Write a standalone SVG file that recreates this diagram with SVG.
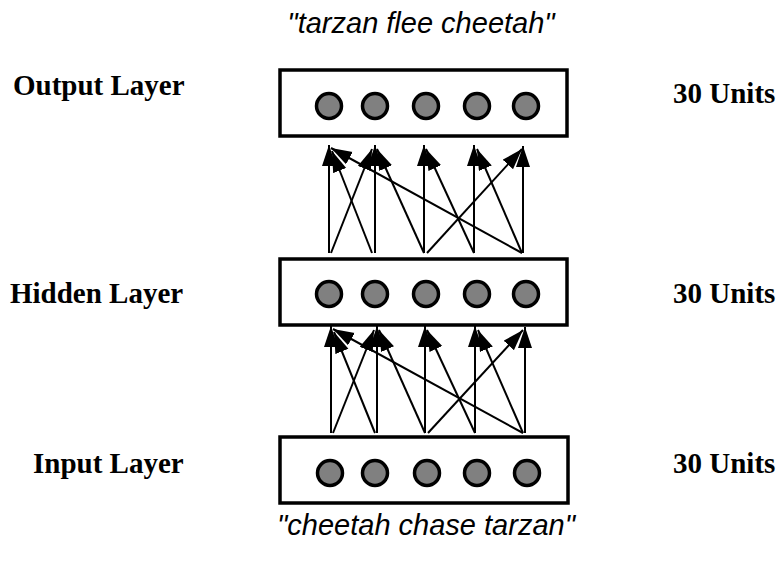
<svg xmlns="http://www.w3.org/2000/svg" width="779" height="563" viewBox="0 0 779 563">
<style>
.lbl{font-family:"Liberation Serif","Times New Roman",serif;font-weight:bold;font-size:29px;fill:#000}
.cap{font-family:"Liberation Sans",Arial,sans-serif;font-style:italic;font-size:29px;fill:#000;text-anchor:middle}
.box{fill:#fff;stroke:#000;stroke-width:3.5}
.unit{fill:#808080;stroke:#000;stroke-width:3.5}
.conn line{stroke:#000;stroke-width:2;marker-end:url(#ah)}
</style>
<defs>
<marker id="ah" markerUnits="userSpaceOnUse" markerWidth="22" markerHeight="15" refX="21" refY="7" orient="auto">
<path d="M0,0 L21,7 L0,14 z" fill="#000"/>
</marker>
</defs>
<rect width="779" height="563" fill="#fff"/>
<text class="cap" x="421" y="33">"tarzan flee cheetah"</text>
<text class="cap" x="426" y="535">"cheetah chase tarzan"</text>

<g id="output-layer">
<text class="lbl" x="13" y="95">Output Layer</text>
<rect class="box" x="280" y="70" width="287" height="66"/>
<circle class="unit" cx="329" cy="106" r="12.5"/>
<circle class="unit" cx="375" cy="106" r="12.5"/>
<circle class="unit" cx="426" cy="106" r="12.5"/>
<circle class="unit" cx="477" cy="106" r="12.5"/>
<circle class="unit" cx="526" cy="106" r="12.5"/>
<text class="lbl" x="673" y="103">30 Units</text>
</g>

<g id="hidden-layer">
<text class="lbl" x="10" y="303">Hidden Layer</text>
<rect class="box" x="280" y="259" width="287" height="66"/>
<circle class="unit" cx="329" cy="294" r="12.5"/>
<circle class="unit" cx="375" cy="294" r="12.5"/>
<circle class="unit" cx="426" cy="294" r="12.5"/>
<circle class="unit" cx="477" cy="294" r="12.5"/>
<circle class="unit" cx="526" cy="294" r="12.5"/>
<text class="lbl" x="673" y="303">30 Units</text>
</g>

<g id="input-layer">
<text class="lbl" x="33" y="473">Input Layer</text>
<rect class="box" x="280" y="437" width="288" height="66"/>
<circle class="unit" cx="330" cy="473" r="12.5"/>
<circle class="unit" cx="375" cy="473" r="12.5"/>
<circle class="unit" cx="427" cy="473" r="12.5"/>
<circle class="unit" cx="477" cy="473" r="12.5"/>
<circle class="unit" cx="527" cy="473" r="12.5"/>
<text class="lbl" x="673" y="473">30 Units</text>
</g>

<g id="connectors" class="conn">
<!-- hidden to output -->
<line x1="329" y1="253" x2="329" y2="145"/>
<line x1="331" y1="253" x2="372" y2="149"/>
<line x1="372" y1="253" x2="332" y2="151"/>
<line x1="375" y1="253" x2="375" y2="145"/>
<line x1="424" y1="253" x2="377" y2="149"/>
<line x1="424" y1="253" x2="424" y2="145"/>
<line x1="427" y1="253" x2="522" y2="149"/>
<line x1="474" y1="253" x2="426" y2="149"/>
<line x1="474" y1="253" x2="474" y2="145"/>
<line x1="522" y1="253" x2="331" y2="148"/>
<line x1="522" y1="253" x2="477" y2="149"/>
<line x1="523" y1="253" x2="523" y2="146"/>
<!-- input to hidden -->
<line x1="331" y1="433" x2="331" y2="326"/>
<line x1="333" y1="433" x2="374" y2="330"/>
<line x1="375" y1="433" x2="334" y2="332"/>
<line x1="377" y1="433" x2="377" y2="326"/>
<line x1="425" y1="433" x2="379" y2="330"/>
<line x1="425" y1="433" x2="425" y2="326"/>
<line x1="428" y1="433" x2="523" y2="330"/>
<line x1="475" y1="433" x2="427" y2="330"/>
<line x1="475" y1="433" x2="475" y2="326"/>
<line x1="523" y1="433" x2="333" y2="329"/>
<line x1="523" y1="433" x2="478" y2="330"/>
<line x1="525" y1="433" x2="525" y2="327"/>
</g>
</svg>
